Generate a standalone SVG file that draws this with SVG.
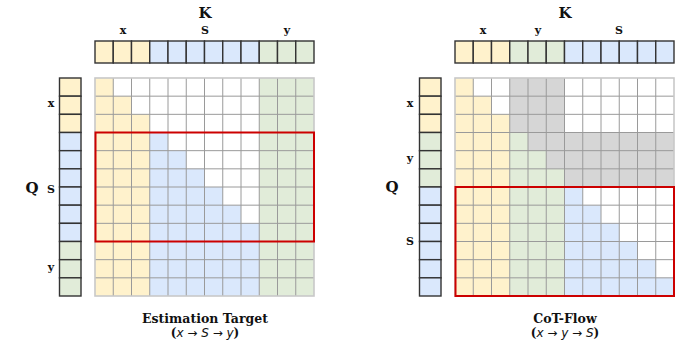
<svg xmlns="http://www.w3.org/2000/svg" width="697" height="356" viewBox="0 0 697 356">
<style>
.lbl{font-family:"DejaVu Serif",serif;font-weight:bold;fill:#111;text-anchor:middle}
.k{font-size:15px}
.s{font-size:11px}
.t{font-size:12.5px}
.t2{font-size:12px}
.m{font-family:"DejaVu Sans",sans-serif;font-style:italic;font-weight:normal}
.ar{font-family:"DejaVu Sans",sans-serif;font-weight:normal}
.hd{stroke:#333;stroke-width:1.4}
.yl{fill:#fff2cc}.bl{fill:#dae8fc}.gr{fill:#e1ecd9}.gy{fill:#d6d6d6}
.gl{fill:none;stroke:#9a9a9a;stroke-width:1}
.ob{fill:none;stroke:#c8c8c8;stroke-width:1.6}
.red{fill:none;stroke:#cc0000;stroke-width:2}
</style>
<defs>
<path id="grid" d="M0 18.17H219M0 36.33H219M0 54.5H219M0 72.67H219M0 90.83H219M0 109H219M0 127.17H219M0 145.33H219M0 163.5H219M0 181.67H219M0 199.83H219M18.25 0V218M36.5 0V218M54.75 0V218M73 0V218M91.25 0V218M109.5 0V218M127.75 0V218M146 0V218M164.25 0V218M182.5 0V218M200.75 0V218"/>
</defs>

<!-- LEFT PANEL -->
<g id="left-K">
<text class="lbl k" x="205" y="18">K</text>
<text class="lbl s" x="123" y="34">x</text>
<text class="lbl s" x="205" y="34">S</text>
<text class="lbl s" x="287" y="34">y</text>
<g class="hd">
<rect class="yl" x="95" y="41" width="18.25" height="22"/>
<rect class="yl" x="113.25" y="41" width="18.25" height="22"/>
<rect class="yl" x="131.5" y="41" width="18.25" height="22"/>
<rect class="bl" x="149.75" y="41" width="18.25" height="22"/>
<rect class="bl" x="168" y="41" width="18.25" height="22"/>
<rect class="bl" x="186.25" y="41" width="18.25" height="22"/>
<rect class="bl" x="204.5" y="41" width="18.25" height="22"/>
<rect class="bl" x="222.75" y="41" width="18.25" height="22"/>
<rect class="bl" x="241" y="41" width="18.25" height="22"/>
<rect class="gr" x="259.25" y="41" width="18.25" height="22"/>
<rect class="gr" x="277.5" y="41" width="18.25" height="22"/>
<rect class="gr" x="295.75" y="41" width="18.25" height="22"/>
</g>
</g>
<g id="left-Q">
<text class="lbl k" x="32" y="193">Q</text>
<text class="lbl s" x="51" y="107">x</text>
<text class="lbl s" x="51" y="193">S</text>
<text class="lbl s" x="51" y="271">y</text>
<g class="hd" transform="translate(59.5,78)">
<rect class="yl" x="0" y="0" width="21.5" height="18.17"/>
<rect class="yl" x="0" y="18.17" width="21.5" height="18.17"/>
<rect class="yl" x="0" y="36.33" width="21.5" height="18.17"/>
<rect class="bl" x="0" y="54.5" width="21.5" height="18.17"/>
<rect class="bl" x="0" y="72.67" width="21.5" height="18.17"/>
<rect class="bl" x="0" y="90.83" width="21.5" height="18.17"/>
<rect class="bl" x="0" y="109" width="21.5" height="18.17"/>
<rect class="bl" x="0" y="127.17" width="21.5" height="18.17"/>
<rect class="bl" x="0" y="145.33" width="21.5" height="18.17"/>
<rect class="gr" x="0" y="163.5" width="21.5" height="18.17"/>
<rect class="gr" x="0" y="181.67" width="21.5" height="18.17"/>
<rect class="gr" x="0" y="199.83" width="21.5" height="18.17"/>
</g>
</g>
<g id="left-mask">
<g transform="translate(95,78) scale(18.25,18.1667)">
<rect x="0" y="0" width="12" height="12" fill="#fff"/>
<path class="yl" d="M0 0H1V1H2V2H3V12H0Z"/>
<rect class="gr" x="9" y="0" width="3" height="12"/>
<path class="bl" d="M3 3H4V4H5V5H6V6H7V7H8V8H9V12H3Z"/>
</g>
<g transform="translate(95,78)">
<use href="#grid" class="gl"/>
<rect class="ob" x="0" y="0" width="219" height="218"/>
</g>
</g>
<g id="left-highlight">
<rect class="red" x="95.5" y="132.5" width="218.5" height="109"/>
</g>
<g id="left-title">
<text class="lbl t" x="205" y="322.5">Estimation Target</text>
<text class="lbl t2" x="205" y="337">(<tspan class="m">x</tspan><tspan class="ar"> → </tspan><tspan class="m">S</tspan><tspan class="ar"> → </tspan><tspan class="m">y</tspan>)</text>
</g>

<!-- RIGHT PANEL -->
<g id="right-K">
<text class="lbl k" x="565" y="18">K</text>
<text class="lbl s" x="483" y="34">x</text>
<text class="lbl s" x="538" y="34">y</text>
<text class="lbl s" x="619" y="34">S</text>
<g class="hd">
<rect class="yl" x="455" y="41" width="18.25" height="22"/>
<rect class="yl" x="473.25" y="41" width="18.25" height="22"/>
<rect class="yl" x="491.5" y="41" width="18.25" height="22"/>
<rect class="gr" x="509.75" y="41" width="18.25" height="22"/>
<rect class="gr" x="528" y="41" width="18.25" height="22"/>
<rect class="gr" x="546.25" y="41" width="18.25" height="22"/>
<rect class="bl" x="564.5" y="41" width="18.25" height="22"/>
<rect class="bl" x="582.75" y="41" width="18.25" height="22"/>
<rect class="bl" x="601" y="41" width="18.25" height="22"/>
<rect class="bl" x="619.25" y="41" width="18.25" height="22"/>
<rect class="bl" x="637.5" y="41" width="18.25" height="22"/>
<rect class="bl" x="655.75" y="41" width="18.25" height="22"/>
</g>
</g>
<g id="right-Q">
<text class="lbl k" x="392" y="192">Q</text>
<text class="lbl s" x="410" y="107">x</text>
<text class="lbl s" x="410" y="162">y</text>
<text class="lbl s" x="410" y="245">S</text>
<g class="hd" transform="translate(419.5,78)">
<rect class="yl" x="0" y="0" width="21.5" height="18.17"/>
<rect class="yl" x="0" y="18.17" width="21.5" height="18.17"/>
<rect class="yl" x="0" y="36.33" width="21.5" height="18.17"/>
<rect class="gr" x="0" y="54.5" width="21.5" height="18.17"/>
<rect class="gr" x="0" y="72.67" width="21.5" height="18.17"/>
<rect class="gr" x="0" y="90.83" width="21.5" height="18.17"/>
<rect class="bl" x="0" y="109" width="21.5" height="18.17"/>
<rect class="bl" x="0" y="127.17" width="21.5" height="18.17"/>
<rect class="bl" x="0" y="145.33" width="21.5" height="18.17"/>
<rect class="bl" x="0" y="163.5" width="21.5" height="18.17"/>
<rect class="bl" x="0" y="181.67" width="21.5" height="18.17"/>
<rect class="bl" x="0" y="199.83" width="21.5" height="18.17"/>
</g>
</g>
<g id="right-mask">
<g transform="translate(455,78) scale(18.25,18.1667)">
<rect x="0" y="0" width="12" height="12" fill="#fff"/>
<path class="yl" d="M0 0H1V1H2V2H3V12H0Z"/>
<path class="gy" d="M3 0H6V3H12V6H6V5H5V4H4V3H3Z"/>
<path class="gr" d="M3 3H4V4H5V5H6V12H3Z"/>
<path class="bl" d="M6 6H7V7H8V8H9V9H10V10H11V11H12V12H6Z"/>
</g>
<g transform="translate(455,78)">
<use href="#grid" class="gl"/>
<rect class="ob" x="0" y="0" width="219" height="218"/>
</g>
</g>
<g id="right-highlight">
<rect class="red" x="455.5" y="187" width="218.5" height="109"/>
</g>
<g id="right-title">
<text class="lbl t" x="565" y="322.5">CoT-Flow</text>
<text class="lbl t2" x="565" y="337">(<tspan class="m">x</tspan><tspan class="ar"> → </tspan><tspan class="m">y</tspan><tspan class="ar"> → </tspan><tspan class="m">S</tspan>)</text>
</g>
</svg>
